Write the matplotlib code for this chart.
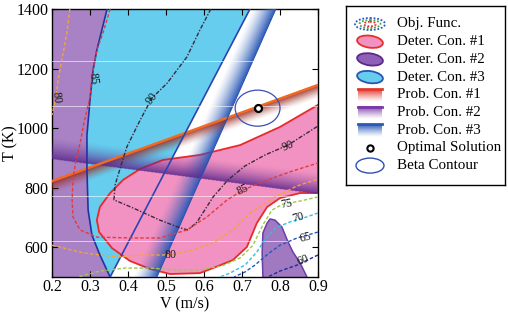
import numpy as np
import matplotlib.pyplot as plt
from matplotlib.patches import Ellipse, Polygon

plt.rcParams['font.family'] = ['Liberation Serif', 'DejaVu Serif']

# ---- deterministic constraint regions ----
# Deter. Con. #2 : boundary between purple (left) and cyan
con2_V = np.array([0.353, 0.326, 0.305, 0.295, 0.292, 0.292, 0.300, 0.308, 0.318, 0.345])
con2_T = np.array([500, 574, 641, 725, 859, 977, 1094, 1195, 1262, 1400])
# second purple lobe, bottom right
lobe_V = np.array([0.755, 0.753, 0.755, 0.766, 0.774, 0.787, 0.805, 0.821, 0.834, 0.853, 0.871])
lobe_T = np.array([500, 581, 648, 681, 695, 691, 668, 618, 584, 547, 500])
# Deter. Con. #3 : right edge of the cyan region
con3_V = np.array([0.353, 0.721])
con3_T = np.array([500, 1400])
# Deter. Con. #1 : pink region outline
con1_V = np.array([0.318, 0.326, 0.353, 0.387, 0.432, 0.492, 0.589, 0.695, 0.800, 0.900,
                   0.900, 0.853, 0.800, 0.766, 0.739, 0.713, 0.676, 0.624, 0.589, 0.511,
                   0.458, 0.405, 0.358, 0.324])
con1_T = np.array([691, 735, 782, 826, 863, 893, 910, 943, 1004, 1078,
                   782, 782, 765, 735, 681, 601, 557, 530, 513, 510,
                   527, 554, 597, 651])

# ---- probabilistic constraint edges ----
prob1_V = np.array([0.2, 0.9])
prob1_T = np.array([822, 1145])
prob2_V = np.array([0.2, 0.9])
prob2_T = np.array([896, 779])
prob3_T = np.array([500, 1400])
prob3_V = np.array([0.476, 0.789])

# ---- objective function contours ----
c90_V = [0.618, 0.589, 0.555, 0.503, 0.463, 0.432, 0.397, 0.382, 0.366, 0.363, 0.413, 0.484,
         0.537, 0.558, 0.582, 0.624, 0.663, 0.708, 0.761, 0.821, 0.900]
c90_T = [1400, 1329, 1239, 1151, 1101, 1027, 937, 876, 809, 759, 732, 691,
         665, 658, 685, 769, 826, 873, 910, 943, 1007]
c85_V = [0.353, 0.334, 0.318, 0.311, 0.305, 0.300, 0.284, 0.274, 0.263, 0.255, 0.253, 0.255,
         0.274, 0.318, 0.413, 0.484, 0.555, 0.608, 0.661, 0.703, 0.747, 0.826, 0.900]
c85_T = [1400, 1319, 1262, 1219, 1168, 1104, 1017, 950, 893, 826, 759, 702,
         658, 634, 631, 631, 658, 702, 759, 792, 816, 853, 883]
c80a_V = [0.247, 0.239, 0.226, 0.216, 0.211, 0.203, 0.200]
c80a_T = [1400, 1319, 1229, 1162, 1104, 1061, 1044]
c80b_V = [0.200, 0.282, 0.371, 0.439, 0.511, 0.571, 0.624, 0.676, 0.721, 0.787, 0.845, 0.900]
c80b_T = [607, 581, 567, 574, 574, 591, 614, 658, 715, 769, 806, 829]
c75_V = [0.900, 0.853, 0.808, 0.779, 0.755, 0.729, 0.695, 0.647, 0.589, 0.524, 0.458, 0.392, 0.326, 0.268]
c75_T = [769, 755, 745, 725, 675, 607, 564, 537, 524, 524, 530, 530, 520, 500]
c70_V = [0.900, 0.871, 0.826, 0.789, 0.763, 0.739, 0.708, 0.668, 0.642]
c70_T = [715, 702, 685, 665, 631, 584, 540, 513, 500]
c65_V = [0.900, 0.845, 0.800, 0.768, 0.734, 0.708, 0.679]
c65_T = [651, 631, 607, 577, 540, 517, 500]
c60_V = [0.900, 0.845, 0.800, 0.768]
c60_T = [574, 540, 520, 500]

label_text = ['90', '90', '85', '85', '80', '80', '75', '70', '65', '60']
label_V = [0.463, 0.821, 0.308, 0.703, 0.211, 0.511, 0.818, 0.847, 0.866, 0.861]
label_T = [1101, 940, 1168, 792, 1104, 574, 745, 698, 634, 557]
label_rot = [52, 22, -82, 25, -82, 0, 10, 15, 15, 20]

opt_V, opt_T = 0.741, 1067
beta_w, beta_h = 0.118, 121

scan_T = [1225, 1074, 772, 621]

legend_labels = ['Obj. Func.', 'Deter. Con. #1', 'Deter. Con. #2', 'Deter. Con. #3',
                 'Prob. Con. #1', 'Prob. Con. #2', 'Prob. Con. #3',
                 'Optimal Solution', 'Beta Contour']

PURPLE = '#a882c4'
CYAN = '#66cdee'
PINK = '#f292c2'

fig = plt.figure(figsize=(5.08, 3.12), dpi=100)
ax = fig.add_axes([52 / 508, 35 / 312, 266 / 508, 268 / 312])
ax.set_xlim(0.2, 0.9)
ax.set_ylim(500, 1400)

# regions
purple_poly = [(0.2, 500)] + list(zip(con2_V, con2_T)) + [(0.2, 1400)]
ax.add_patch(Polygon(purple_poly, closed=True, fc=PURPLE, ec='none', zorder=1))
cyan_poly = list(zip(con2_V, con2_T)) + [(con3_V[1], con3_T[1])]
ax.add_patch(Polygon(cyan_poly, closed=True, fc=CYAN, ec='none', zorder=1))
ax.add_patch(Polygon(list(zip(con1_V, con1_T)), closed=True, fc=PINK, ec='#e82a2a',
                     lw=1.3, joinstyle='round', zorder=2))
ax.add_patch(Polygon(list(zip(lobe_V, lobe_T)), closed=False, fc='#a079c0', ec='#6a3fa8',
                     lw=1.1, joinstyle='round', zorder=2))

# gradient bands for the probabilistic constraints
nV, nT = 560, 540
Vg = np.linspace(0.2, 0.9, nV)
Tg = np.linspace(500, 1400, nT)
VV, TT = np.meshgrid(Vg, Tg)
kV = 266 / 0.7      # px per unit V
kT = 268 / 900.0    # px per K


def band(dist, width, rgb, a0):
    a = np.where(dist >= 0, a0 * np.clip(1 - dist / width, 0, 1) ** 1.4, 0.0)
    img = np.zeros(dist.shape + (4,))
    img[..., :3] = rgb
    img[..., 3] = a
    return img


def hex2rgb(h):
    return np.array([int(h[i:i + 2], 16) / 255 for i in (1, 3, 5)])


d1 = (np.interp(VV, prob1_V, prob1_T) - TT) * kT
d2 = (TT - np.interp(VV, prob2_V, prob2_T)) * kT
d3 = (np.interp(TT, prob3_T, prob3_V) - VV) * kV
for d, w, col, a0 in [(d3, 24, '#2c5cb8', 1.0), (d1, 14, '#9a2e26', 0.95),
                      (d2, 22, '#5e2a8e', 0.9)]:
    ax.imshow(band(d, w, hex2rgb(col), a0), extent=[0.2, 0.9, 500, 1400], origin='lower',
              aspect='auto', interpolation='bilinear', zorder=3)
ax.plot(prob1_V, prob1_T, color='#f26a22', lw=1.8, zorder=4)
ax.plot(prob3_V, prob3_T, color='#2a50b0', lw=0.8, zorder=4)

# region boundary lines
ax.plot(con2_V, con2_T, color='#2a2fa0', lw=1.2, zorder=4)
ax.plot(con3_V, con3_T, color='#2a45b0', lw=1.2, zorder=4)

# scan lines
for t in scan_T:
    ax.axhline(t, color='white', lw=0.6, alpha=0.7, zorder=4.5)

# objective contours
dash = (0, (2.5, 1.5))
contours = [(c90_V, c90_T, '#3a2a40', (0, (3, 1.2, 1, 1.2))),
            (c85_V, c85_T, '#e43a3a', dash),
            (c80a_V, c80a_T, '#f5a23a', dash),
            (c80b_V, c80b_T, '#f5a23a', dash),
            (c75_V, c75_T, '#9cc84a', dash),
            (c70_V, c70_T, '#35bde6', dash),
            (c65_V, c65_T, '#2158c8', dash),
            (c60_V, c60_T, '#1c2a9c', dash)]
for cv, ct, col, ls in contours:
    ax.plot(cv, ct, color=col, lw=1.0, ls=ls, zorder=5)
for s, v, t, r in zip(label_text, label_V, label_T, label_rot):
    ax.text(v, t, s, fontsize=8.5, rotation=r, ha='center', va='center', color='#1a1a1a',
            zorder=6)

# beta contour & optimum
ax.add_patch(Ellipse((opt_V, opt_T), beta_w, beta_h, fc='none', ec='#3a4fb8', lw=0.9, zorder=7))
ax.plot([opt_V], [opt_T], 'o', ms=5, mfc='white', mec='black', mew=1.6, zorder=8)

ax.set_xticks(np.arange(0.2, 0.91, 0.1))
ax.set_xticklabels(['0.2', '0.3', '0.4', '0.5', '0.6', '0.7', '0.8', '0.9'])
ax.set_yticks([600, 800, 1000, 1200, 1400])
ax.tick_params(direction='in', top=True, right=True, length=4, width=0.8, labelsize=11.5)
ax.tick_params(axis='x', pad=1.5)
ax.tick_params(axis='y', pad=2.5)
ax.set_xlabel('V (m/s)', fontsize=11.5)
ax.set_ylabel('T (K)', fontsize=11.5)
ax.xaxis.set_label_coords(0.5, -0.072)
ax.yaxis.set_label_coords(-0.128, 0.5)
for sp in ax.spines.values():
    sp.set_linewidth(1.0)

# ---- legend box ----
lg = fig.add_axes([346 / 508, (312 - 185) / 312, 159 / 508, 179 / 312])
lg.set_xticks([])
lg.set_yticks([])
for sp in lg.spines.values():
    sp.set_linewidth(1.0)
rows = 18 + 17.7 * np.arange(9)
ix = 24
# obj func
for w, h, col in [(30, 12, '#2a58c0'), (21, 8, '#3aa84a'), (12, 4.5, '#e83030')]:
    lg.add_patch(Ellipse((ix, rows[0]), w, h, fc='none', ec=col, lw=1.3, ls=(0, (1, 1))))
for k, (fc, ec) in enumerate([(PINK, '#e8302a'), ('#9060b8', '#5a2a8a'), (CYAN, '#2a55b0')]):
    lg.add_patch(Ellipse((ix, rows[k + 1]), 26, 12, angle=8, fc=fc, ec=ec, lw=1.3))
grad = np.linspace(0, 1, 40)[:, None]
for k, col in enumerate(['#e03a30', '#7a3aa8', '#2a5ab8']):
    y0 = rows[k + 4]
    img = np.zeros((40, 2, 4))
    img[..., :3] = hex2rgb(col)
    img[..., 3] = (1 - grad) ** 1.2
    lg.imshow(img, extent=[12, 36, y0 + 7, y0 - 6], aspect='auto', interpolation='bilinear')
    lg.plot([12, 36], [y0 - 6, y0 - 6], color=col, lw=2)
lg.plot([ix], [rows[7]], 'o', ms=4.5, mfc='white', mec='black', mew=1.5)
lg.add_patch(Ellipse((ix, rows[8]), 28, 15, fc='none', ec='#3050b0', lw=1.0))
lg.set_xlim(0, 159)
lg.set_ylim(179, 0)
for k, s in enumerate(legend_labels):
    lg.text(51, rows[k], s, fontsize=10.8, va='center', ha='left')

fig.savefig('out.png', dpi=100)
